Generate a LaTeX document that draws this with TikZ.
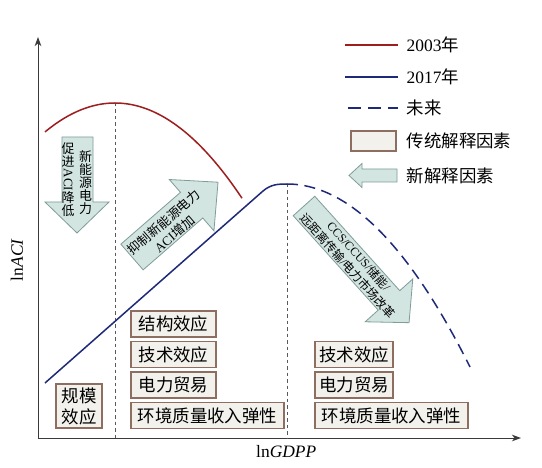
\documentclass[tikz,border=0pt]{standalone}
\usepackage{fontspec}
\setmainfont{Liberation Serif}
\newfontfamily\cjk{Noto Sans CJK SC}
\usetikzlibrary{arrows.meta}
\newcommand\zh[1]{{\cjk #1}}
\newcommand\myfs[1]{\fontsize{#1}{#1}\selectfont}
\definecolor{curvered}{HTML}{9C1E1E}
\definecolor{curveblue}{HTML}{1E2A78}
\definecolor{boxfill}{HTML}{F3F1EC}
\definecolor{boxline}{HTML}{8E6E60}
\definecolor{arrfill}{HTML}{D2E5E1}
\definecolor{arrline}{HTML}{7F9C98}
\definecolor{axisgray}{HTML}{3A3A3A}
\tikzset{
  factor/.style={draw=boxline, fill=boxfill, line width=1.2bp, inner sep=0pt,
    minimum height=26bp, font=\cjk\myfs{17.5}},
  bigarrow/.style={draw=arrline, fill=arrfill, line width=0.8bp, line join=miter},
  axisline/.style={draw=axisgray, line width=1bp},
  guide/.style={draw=black!65, dash pattern=on 3.5bp off 3bp, line width=0.9bp},
  redcurve/.style={draw=curvered, line width=1.5bp},
  bluecurve/.style={draw=curveblue, line width=1.5bp},
  bluedash/.style={draw=curveblue, line width=1.5bp, dash pattern=on 11bp off 6.5bp},
  legtext/.style={anchor=west, inner sep=0pt, font=\myfs{17.5}},
  arrtext/.style={inner sep=0pt, align=center, font=\myfs{13}},
}
\begin{document}
\begin{tikzpicture}[x=1bp,y=-1bp]
\useasboundingbox[fill=white] (0,0) rectangle (542,468);

% axes
\coordinate (ytip) at (38,37);
\coordinate (O) at (38,438);
\coordinate (xtip) at (521,438);
\draw[axisline, {Stealth[length=9bp,width=6.5bp,inset=2.5bp]}-{Stealth[length=9bp,width=6.5bp,inset=2.5bp]}] (ytip) -- (O) -- (xtip);
\node[font=\myfs{17.5}, anchor=west, inner sep=0pt] (xlab) at (256,452) {ln\textit{GDPP}};
\node[font=\myfs{17.5}, rotate=90, inner sep=0pt] (ylab) at (17,260) {ln\textit{ACI}};

% guide lines
\coordinate (g1t) at (115,103); \coordinate (g1b) at (115,438);
\coordinate (g2t) at (287,184); \coordinate (g2b) at (287,438);
\draw[guide] (g1t) -- (g1b);
\draw[guide] (g2t) -- (g2b);

% curves
\draw[redcurve] plot[domain=45:242, samples=80, smooth] (\x,{103+0.0059*(\x-115)*(\x-115)});
\coordinate (bs) at (45,383);
\coordinate (bk) at (263,191);
\draw[bluecurve] (bs) -- (bk) .. controls (271,184.3) and (278,184) .. (g2t);
\draw[bluedash] plot[domain=287:470, samples=60, smooth] (\x,{184+0.00546*(\x-287)*(\x-287)});

% down arrow (new factor)
\draw[bigarrow] (62,137) -- (93,137) -- (93,202) -- (109,202) -- (77,233) -- (45,202) -- (62,202) -- cycle;
\node[arrtext] (colL) at (68,180) {\zh{促}\\\zh{进}\\\rotatebox[origin=c]{-90}{ACI}\\\zh{降}\\\zh{低}};
\node[arrtext] (colR) at (85.5,182.5) {\zh{新}\\\zh{能}\\\zh{源}\\\zh{电}\\\zh{力}};

% up-right arrow
\begin{scope}[shift={(132,257)}, rotate=41]
  \draw[bigarrow] (0,-17) -- (79,-17) -- (79,-34) -- (114,0) -- (79,34) -- (79,17) -- (0,17) -- cycle;
  \node[arrtext, font=\fontsize{13}{16}\selectfont, rotate=41] (upt) at (47,2.5) {\zh{抑制新能源电力}\\ACI\zh{增加}};
\end{scope}

% down-right arrow
\begin{scope}[shift={(304,206)}, rotate=-48]
  \draw[bigarrow] (0,-14.5) -- (127,-14.5) -- (127,-32) -- (157,0) -- (127,32) -- (127,14.5) -- (0,14.5) -- cycle;
  \node[arrtext, font=\fontsize{12}{15}\selectfont, rotate=-48] (dnt) at (74,0) {CCS/CCUS/\zh{储能}/\\\zh{远距离传输}/\zh{电力市场改革}};
\end{scope}

% traditional factor boxes
\node[factor, minimum width=46bp, minimum height=44bp, align=center, font=\cjk\fontsize{17.5}{21}\selectfont] (b0) at (79,406) {规模\\效应};
\node[factor, minimum width=85bp] (b1) at (173.5,324) {结构效应};
\node[factor, minimum width=85bp] (b2) at (173.5,354.5) {技术效应};
\node[factor, minimum width=85bp] (b3) at (173.5,385) {电力贸易};
\node[factor, minimum width=153bp] (b4) at (207.5,415.5) {环境质量收入弹性};
\node[factor, minimum width=78bp] (r2) at (354,354.5) {技术效应};
\node[factor, minimum width=78bp] (r3) at (354,385) {电力贸易};
\node[factor, minimum width=153bp] (r4) at (391.5,415.5) {环境质量收入弹性};

% legend
\coordinate (l1a) at (345,45); \coordinate (l1b) at (398,45);
\coordinate (l2a) at (345,77); \coordinate (l2b) at (398,77);
\coordinate (l3a) at (345,108); \coordinate (l3b) at (398,108);
\draw[redcurve] (l1a) -- (l1b);
\draw[bluecurve] (l2a) -- (l2b);
\draw[bluedash, dash pattern=on 13bp off 7bp, dash phase=-3bp] (l3a) -- (l3b);
\node[legtext] (t1) at (406.5,45) {2003\zh{年}};
\node[legtext] (t2) at (406.5,77) {2017\zh{年}};
\node[legtext] (t3) at (406.5,108) {\zh{未来}};
\node[factor, minimum width=45bp, minimum height=20bp] (lbox) at (373.5,141) {};
\node[legtext] (t4) at (406.5,141) {\zh{传统解释因素}};
\draw[bigarrow] (397,169) -- (362,169) -- (362,163.5) -- (349,175.5) -- (362,187.5) -- (362,182) -- (397,182) -- cycle;
\node[legtext] (t5) at (406.5,176) {\zh{新解释因素}};
\end{tikzpicture}
\end{document}
